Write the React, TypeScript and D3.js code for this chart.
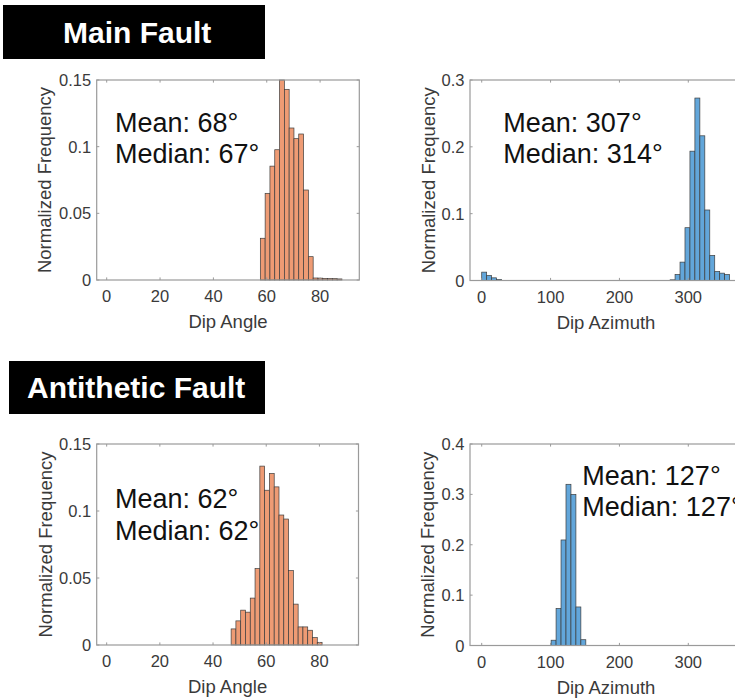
import React from "react";
import * as d3 from "d3";

// Histogram bin layout (degrees)
const dipBinWidth = 1.8;
const azBinWidth = 7.2;

// Main fault – dip angle (bins starting at 57.6°)
const mainDipStart = 57.6;
const mainDipFreq = [0.0313, 0.065, 0.0854, 0.0977, 0.15, 0.143, 0.114, 0.106, 0.1095, 0.0675, 0.0175, 0.0015, 0.0014, 0.0012, 0.0011, 0.001, 0.0008];

// Main fault – dip azimuth (two clusters: near north and around 310°)
const mainAzLowStart = 0;
const mainAzLowFreq = [0.0125, 0.0075, 0.004, 0.0015];
const mainAzHighStart = 273.6;
const mainAzHighFreq = [0.001, 0.009, 0.0275, 0.079, 0.1935, 0.273, 0.2165, 0.1055, 0.0375, 0.0135, 0.011, 0.009];

// Antithetic fault – dip angle (bins starting at 46.8°)
const antiDipStart = 46.8;
const antiDipFreq = [0.012, 0.018, 0.026, 0.0245, 0.035, 0.057, 0.1335, 0.1155, 0.128, 0.118, 0.097, 0.094, 0.0555, 0.0305, 0.0135, 0.0135, 0.011, 0.0055, 0.002];

// Antithetic fault – dip azimuth (bins starting at 100.8°)
const antiAzStart = 100.8;
const antiAzFreq = [0.0105, 0.0735, 0.2095, 0.32, 0.2998, 0.0765, 0.0115];

// Axis ticks
const dipTicks = [0, 20, 40, 60, 80];
const azTicks = [0, 100, 200, 300];
const yTicksDip = [0, 0.05, 0.1, 0.15];
const yTicksMainAz = [0, 0.1, 0.2, 0.3];
const yTicksAntiAz = [0, 0.1, 0.2, 0.3, 0.4];

// Text
const sectionTitles = ["Main Fault", "Antithetic Fault"];
const statLines = [
  ["Mean: 68°", "Median: 67°"],
  ["Mean: 307°", "Median: 314°"],
  ["Mean: 62°", "Median: 62°"],
  ["Mean: 127°", "Median: 127°"],
];

const ORANGE = "#EE9B74";
const BLUE = "#62A6DA";
const FONT = "'Liberation Sans', Arial, Helvetica, sans-serif";

type Series = { start: number; width: number; values: number[] };

type PanelProps = {
  box: { left: number; right: number; top: number; bottom: number };
  xDomain: [number, number];
  yMax: number;
  xTicks: number[];
  yTicks: number[];
  series: Series[];
  fill: string;
  xLabel: string;
  yLabelX: number;
  stats: string[];
  statX: number;
  statY: [number, number];
};

function Panel(p: PanelProps) {
  const { box } = p;
  const x = d3.scaleLinear().domain(p.xDomain).range([box.left, box.right]);
  const y = d3.scaleLinear().domain([0, p.yMax]).range([box.bottom, box.top]);
  const tick = 2.6;
  const axisCol = "#9a9a9a";
  const textCol = "#3a3a3a";
  const bars: { x0: number; x1: number; v: number }[] = [];
  p.series.forEach((s) =>
    s.values.forEach((v, i) => {
      const x0 = s.start + i * s.width;
      bars.push({ x0, x1: x0 + s.width, v });
    })
  );
  const cx = (box.left + box.right) / 2;
  const cy = (box.top + box.bottom) / 2;
  return (
    <g>
      <rect x={box.left} y={box.top} width={box.right - box.left} height={box.bottom - box.top} fill="#fff" />
      {bars.map((b, i) => (
        <rect
          key={i}
          x={x(b.x0)}
          y={y(b.v)}
          width={x(b.x1) - x(b.x0)}
          height={y(0) - y(b.v)}
          fill={p.fill}
          stroke="#3d3d3d"
          strokeWidth={0.7}
        />
      ))}
      <rect
        x={box.left}
        y={box.top}
        width={box.right - box.left}
        height={box.bottom - box.top}
        fill="none"
        stroke={axisCol}
        strokeWidth={1.2}
      />
      {p.xTicks.map((t) => (
        <g key={"x" + t}>
          <line x1={x(t)} x2={x(t)} y1={box.bottom} y2={box.bottom - tick} stroke={axisCol} />
          <line x1={x(t)} x2={x(t)} y1={box.top} y2={box.top + tick} stroke={axisCol} />
          <text x={x(t)} y={box.bottom + 22} textAnchor="middle" fontSize={16.5} fill={textCol} fontFamily={FONT}>
            {String(t)}
          </text>
        </g>
      ))}
      {p.yTicks.map((t) => (
        <g key={"y" + t}>
          <line x1={box.left} x2={box.left + tick} y1={y(t)} y2={y(t)} stroke={axisCol} />
          <line x1={box.right} x2={box.right - tick} y1={y(t)} y2={y(t)} stroke={axisCol} />
          <text x={box.left - 5.5} y={y(t) + 6} textAnchor="end" fontSize={16.5} fill={textCol} fontFamily={FONT}>
            {String(t)}
          </text>
        </g>
      ))}
      <text x={cx} y={box.bottom + 48} textAnchor="middle" fontSize={18.5} fill={textCol} fontFamily={FONT}>
        {p.xLabel}
      </text>
      <text
        transform={`translate(${p.yLabelX},${cy}) rotate(-90)`}
        textAnchor="middle"
        fontSize={18.5}
        fill={textCol}
        fontFamily={FONT}
      >
        Normalized Frequency
      </text>
      {p.stats.map((s, i) => (
        <text key={s + i} x={p.statX} y={p.statY[i]} fontSize={27} fill="#111" fontFamily={FONT}>
          {s}
        </text>
      ))}
    </g>
  );
}

function Banner({ x, y, w, h, textX, text }: { x: number; y: number; w: number; h: number; textX: number; text: string }) {
  return (
    <g>
      <rect x={x} y={y} width={w} height={h} fill="#000" />
      <text x={textX} y={y + h / 2 + 10.5} fill="#fff" fontWeight="bold" fontSize={30} fontFamily={FONT}>
        {text}
      </text>
    </g>
  );
}

export default function App() {
  return (
    <div style={{ position: "absolute", left: 0, top: 0, width: 735, height: 700, overflow: "hidden", background: "#fff" }}>
      <svg width={735} height={700} viewBox="0 0 735 700" style={{ display: "block" }}>
        <rect width={735} height={700} fill="#fff" />
        <Banner x={3} y={5} w={262} h={54} textX={63} text={sectionTitles[0]} />
        <Banner x={9} y={361} w={256} h={53} textX={27} text={sectionTitles[1]} />

        <Panel
          box={{ left: 96.7, right: 359.3, top: 80, bottom: 280 }}
          xDomain={[-3.75, 94.7]}
          yMax={0.15}
          xTicks={dipTicks}
          yTicks={yTicksDip}
          series={[{ start: mainDipStart, width: dipBinWidth, values: mainDipFreq }]}
          fill={ORANGE}
          xLabel="Dip Angle"
          yLabelX={51}
          stats={statLines[0]}
          statX={115}
          statY={[131.7, 163.3]}
        />
        <Panel
          box={{ left: 470, right: 742, top: 80, bottom: 280.5 }}
          xDomain={[-17, 378]}
          yMax={0.3}
          xTicks={azTicks}
          yTicks={yTicksMainAz}
          series={[
            { start: mainAzLowStart, width: azBinWidth, values: mainAzLowFreq },
            { start: mainAzHighStart, width: azBinWidth, values: mainAzHighFreq },
          ]}
          fill={BLUE}
          xLabel="Dip Azimuth"
          yLabelX={435}
          stats={statLines[1]}
          statX={503.3}
          statY={[131.7, 163.3]}
        />
        <Panel
          box={{ left: 96.7, right: 358.5, top: 444, bottom: 645 }}
          xDomain={[-3.75, 94.7]}
          yMax={0.15}
          xTicks={dipTicks}
          yTicks={yTicksDip}
          series={[{ start: antiDipStart, width: dipBinWidth, values: antiDipFreq }]}
          fill={ORANGE}
          xLabel="Dip Angle"
          yLabelX={51.5}
          stats={statLines[2]}
          statX={115}
          statY={[508.3, 540]}
        />
        <Panel
          box={{ left: 470, right: 742, top: 444, bottom: 645.5 }}
          xDomain={[-17, 378]}
          yMax={0.4}
          xTicks={azTicks}
          yTicks={yTicksAntiAz}
          series={[{ start: antiAzStart, width: azBinWidth, values: antiAzFreq }]}
          fill={BLUE}
          xLabel="Dip Azimuth"
          yLabelX={434}
          stats={statLines[3]}
          statX={582.3}
          statY={[485, 515.5]}
        />
      </svg>
    </div>
  );
}
